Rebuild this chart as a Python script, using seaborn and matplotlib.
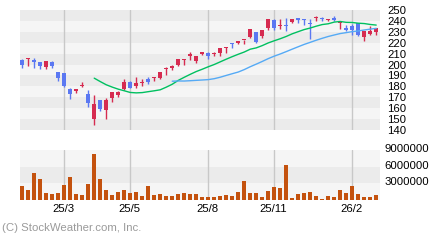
import numpy as np
import pandas as pd
import seaborn as sns
import matplotlib
matplotlib.use("Agg")
import matplotlib.pyplot as plt
import matplotlib.transforms as mtransforms

# ---- data (weekly candles) ----
opens = [204.2, 205.0, 204.2, 202.3, 197.8, 202.3, 193.2, 192.3, 177.6, 175.8,
         180.6, 173.0, 150.1, 167.5, 158.6, 169.3, 172.1, 177.6, 184.0, 180.3,
         182.7, 186.8, 187.3, 187.7, 195.5, 196.8, 199.6, 203.8, 207.8, 203.2,
         209.7, 210.6, 209.3, 210.9, 214.8, 219.2, 219.8, 222.1, 225.3, 229.8,
         226.2, 233.5, 240.8, 234.9, 235.7, 239.0, 242.7, 241.2, 237.6, 242.7,
         243.0, 241.1, 242.7, 238.1, 233.5, 235.3, 238.1, 225.3, 228.0, 229.8]
highs = [205.1, 206.3, 206.3, 202.3, 203.2, 203.2, 193.2, 192.3, 178.5, 177.6,
         183.7, 176.7, 172.1, 167.5, 169.3, 175.1, 175.8, 186.8, 185.2, 188.6,
         186.8, 188.6, 188.6, 193.2, 197.8, 199.6, 205.1, 205.1, 211.5, 207.8,
         211.5, 211.5, 211.5, 215.2, 216.1, 219.8, 221.6, 222.9, 232.6, 229.8,
         231.7, 241.8, 241.8, 241.8, 242.7, 241.8, 242.7, 241.8, 241.8, 244.5,
         243.6, 241.9, 244.5, 239.0, 236.3, 237.2, 238.1, 230.8, 235.3, 233.5]
lows = [197.1, 198.7, 197.1, 196.2, 196.2, 197.1, 185.2, 179.7, 168.4, 173.9,
        179.4, 161.4, 144.9, 157.4, 150.4, 165.9, 170.5, 176.7, 178.2, 178.5,
        180.3, 182.2, 184.9, 187.0, 190.4, 195.0, 198.7, 199.6, 204.2, 201.4,
        208.8, 205.1, 207.8, 207.8, 210.9, 215.2, 219.1, 218.8, 224.3, 220.0,
        224.3, 231.7, 231.7, 232.6, 230.8, 238.1, 238.1, 236.3, 223.4, 239.9,
        239.9, 239.9, 239.9, 232.6, 230.8, 227.1, 226.2, 221.6, 227.1, 227.1]
closes = [199.6, 205.8, 202.3, 199.0, 203.2, 198.7, 188.0, 180.3, 173.0, 177.6,
          181.4, 165.0, 163.8, 159.3, 167.5, 174.5, 174.5, 184.0, 178.5, 183.1,
          183.5, 184.0, 188.1, 193.2, 196.3, 198.7, 205.1, 204.6, 209.7, 207.8,
          211.5, 207.8, 210.1, 215.2, 215.6, 218.4, 221.6, 222.9, 232.6, 220.7,
          231.7, 241.8, 233.5, 235.7, 234.9, 241.8, 240.8, 240.4, 236.8, 243.6,
          242.2, 241.9, 240.8, 239.0, 231.7, 231.7, 227.1, 230.8, 230.8, 233.5]
volumes = [2520000, 1800000, 4860000, 3780000, 1260000, 1080000, 1260000, 2700000, 4140000, 1080000,
           900000, 2880000, 8280000, 3780000, 1800000, 900000, 1440000, 1800000, 1260000, 1440000,
           720000, 2520000, 900000, 1080000, 720000, 720000, 1080000, 1260000, 1080000, 1080000,
           540000, 540000, 540000, 720000, 900000, 720000, 1440000, 3420000, 1260000, 1260000,
           540000, 1620000, 2340000, 2160000, 6300000, 360000, 1080000, 1260000, 1440000, 720000,
           180000, 720000, 540000, 1800000, 1260000, 2520000, 1080000, 540000, 540000, 900000]
x_tick_labels = ["25/3", "25/5", "25/8", "25/11", "26/2"]
x_tick_index = [7, 18, 31, 42, 55]
price_ticks = [250, 240, 230, 220, 210, 200, 190, 180, 170, 160, 150, 140]
volume_ticks = [9000000, 6000000, 3000000]

df = pd.DataFrame({"open": opens, "high": highs, "low": lows,
                   "close": closes, "volume": volumes})
df["idx"] = np.arange(len(df))
df["ma13"] = df["close"].rolling(13).mean()
df["ma26"] = df["close"].rolling(26).mean()

sns.set_theme(style="white")
plt.rcParams["font.family"] = ["Liberation Sans", "DejaVu Sans"]

RED = "#d62b50"
BLUE = "#5b78f2"
VOLC = "#c4520e"
BAND_D = "#ebebeb"
BAND_L = "#f5f5f5"
GRID = "#c8c8c8"

fig = plt.figure(figsize=(4.4, 2.4), dpi=100)
ax = fig.add_axes([20 / 440, 1 - 130 / 240, 360 / 440, 120 / 240])
axv = fig.add_axes([20 / 440, 1 - 200 / 240, 360 / 440, 50 / 240])

xlim = (-1.8 / 6 - 0.05, 58.0 / 6 * 6 / 6 + 59.0 - 58.0 + 0.67)
xlim = (-0.37, 59.63)

for a in (ax, axv):
    for s in a.spines.values():
        s.set_visible(False)
    a.set_xlim(*xlim)

# price bands
for k, lo in enumerate(range(240, 139, -10)):
    ax.axhspan(lo, lo + 10, color=BAND_D if k % 2 == 0 else BAND_L, lw=0, zorder=0)
ax.set_ylim(140, 250)
# volume bands
axv.axhspan(6e6, 9e6, color=BAND_L, lw=0, zorder=0)
axv.axhspan(3e6, 6e6, color=BAND_D, lw=0, zorder=0)
axv.axhspan(0, 3e6, color=BAND_L, lw=0, zorder=0)
axv.set_ylim(0, 9e6)

for xi in x_tick_index:
    ax.axvline(xi - 0.12, color=GRID, lw=1.0, zorder=1)
    axv.axvline(xi - 0.12, color=GRID, lw=1.0, zorder=1)

# candles
up = df["close"] >= df["open"]
colors = np.where(up, RED, BLUE)
ax.vlines(df["idx"], df["low"], df["high"], colors=colors, lw=1.0, zorder=3)
body_bottom = np.minimum(df["open"], df["close"])
body_h = np.maximum(np.abs(df["close"] - df["open"]), 0.9)
ax.bar(df["idx"], body_h, bottom=body_bottom, width=0.7, color=colors,
       linewidth=0, zorder=4)

# moving averages
sns.lineplot(data=df, x="idx", y="ma13", ax=ax, color="#00c060", lw=1.0, zorder=5)
sns.lineplot(data=df, x="idx", y="ma26", ax=ax, color="#55aaf5", lw=1.0, zorder=5)

# volume bars
axv.bar(df["idx"], df["volume"], width=0.7, color=VOLC, linewidth=0, zorder=3)

# axes labels / ticks
ax.set_xlabel("")
ax.set_ylabel("")
ax.set_xticks([])
ax.yaxis.tick_right()
ax.set_yticks(price_ticks)
ax.set_yticklabels([str(t) for t in price_ticks])
ax.tick_params(axis="y", length=0, pad=5, labelsize=8.2, labelcolor="black")
for lbl in ax.get_yticklabels():
    lbl.set_horizontalalignment("left")

axv.yaxis.tick_right()
axv.set_yticks(volume_ticks)
axv.set_yticklabels([str(t) for t in volume_ticks])
axv.tick_params(axis="y", length=0, pad=3, labelsize=8.2, labelcolor="black")
off = mtransforms.ScaledTranslation(0, 2 / 100, fig.dpi_scale_trans)
for lbl in axv.get_yticklabels():
    lbl.set_transform(lbl.get_transform() + off)
axv.set_xticks([xi - 0.12 for xi in x_tick_index])
axv.set_xticklabels(x_tick_labels)
axv.tick_params(axis="x", length=0, pad=3, labelsize=8.2, labelcolor="black")

fig.text(2 / 440, 1 - 228 / 240, "(C) StockWeather.com, Inc.", fontsize=8.2,
         color="#9a9a9a", va="center", ha="left")

fig.savefig("out.png", dpi=100, facecolor="white")
